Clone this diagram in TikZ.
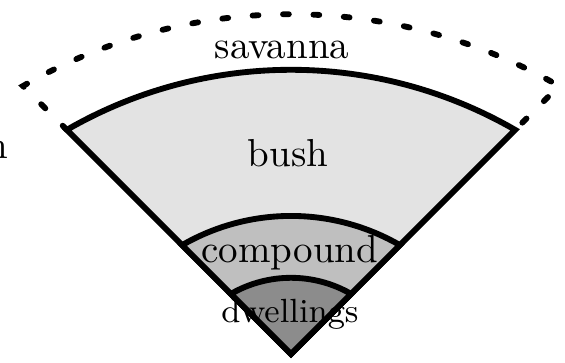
\documentclass[tikz,border=0pt]{standalone}
\definecolor{bushfill}{gray}{0.89}
\definecolor{compfill}{gray}{0.75}
\definecolor{dwellfill}{gray}{0.55}
\tikzset{
  zone/.style={draw=black, line width=1.5pt, line join=miter},
  outer/.style={draw=black, line width=1.5pt, line cap=round, dash pattern=on 1.5pt off 6.3pt},
  lbl/.style={anchor=base, inner sep=0pt, font=\normalsize}
}
\begin{document}
\begin{tikzpicture}[x=0.2564pt, y=0.2564pt]
\useasboundingbox (-291,-8) rectangle (274,354);
\coordinate (apex) at (0,0);
\coordinate (bl) at (135:317);
\coordinate (br) at (45:317);
\coordinate (ol) at (135:379);
% dashed outer region
\draw[outer] (bl) -- (ol) arc[start angle=120, end angle=60, radius=536] -- (br);
% zones
\path[zone, fill=bushfill] (apex) -- (bl) arc[start angle=120, end angle=60, radius=448.3] -- cycle;
\path[zone, fill=compfill] (apex) -- (135:154) arc[start angle=120, end angle=60, radius=217.8] -- cycle;
\path[zone, fill=dwellfill] (apex) -- (135:85) arc[start angle=120, end angle=60, radius=120.2] -- cycle;
% labels
\node[lbl] (sav) at (-9,296) {savanna};
\node[lbl] (bush) at (-3,188) {bush};
\node[lbl] (comp) at (-1,92) {compound};
\node[lbl, font=\fontsize{8.6}{10}\selectfont] (dwell) at (-1,32) {dwellings};
\node[anchor=base east, inner sep=0pt] (cut) at (-282,196) {n};
\end{tikzpicture}
\end{document}
